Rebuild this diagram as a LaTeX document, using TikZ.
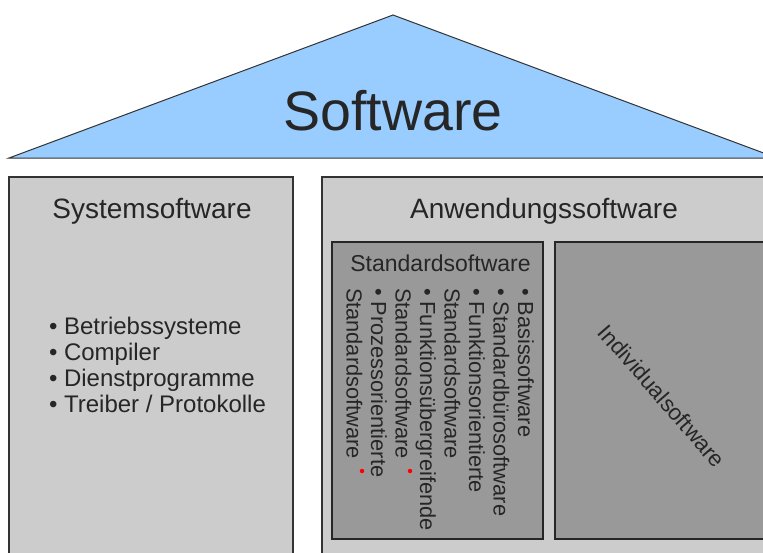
\documentclass[tikz,border=0pt]{standalone}
\usepackage{fontspec}
\setmainfont{Liberation Sans}
\definecolor{roofblue}{HTML}{99CCFF}
\definecolor{boxgray}{HTML}{CCCCCC}
\definecolor{innergray}{HTML}{999999}
\definecolor{linedark}{HTML}{333333}
\definecolor{textdark}{HTML}{262626}
\tikzset{
  outerbox/.style={fill=boxgray, draw=linedark, line width=1.6pt},
  innerbox/.style={fill=innergray, draw=black!85, line width=1.8pt},
  lbl/.style={text=textdark, inner sep=0pt, outer sep=0pt},
  vlist/.style={lbl, rotate=-90, anchor=base west, font=\fontsize{21.8}{24}\selectfont},
  hlist/.style={lbl, anchor=base west, font=\fontsize{24}{26}\selectfont},
  reddot/.style={circle, fill=red, inner sep=0pt, minimum size=4.5pt}
}
\begin{document}
\begin{tikzpicture}[x=1pt,y=-1pt]
\useasboundingbox (0,0) rectangle (763,552);
\clip (0,0) rectangle (763,552);
\fill[white] (0,0) rectangle (763,552);
% roof
\coordinate (rl) at (9,158);
\coordinate (rt) at (393,15);
\coordinate (rr) at (777,158);
\draw[fill=roofblue, draw=linedark, line width=1pt] (rl) -- (rt) -- (rr) -- cycle;
\node[lbl, anchor=base, font=\fontsize{55.5}{60}\selectfont] (sw) at (393,130) {Software};
% left pillar
\draw[outerbox] (9,177) rectangle (293,570);
\node[lbl, anchor=base, font=\fontsize{28}{30}\selectfont] (sys) at (152,218) {Systemsoftware};
\node[hlist] (s1) at (49,334) {• Betriebssysteme};
\node[hlist] (s2) at (49,360) {• Compiler};
\node[hlist] (s3) at (49,386) {• Dienstprogramme};
\node[hlist] (s4) at (49,412) {• Treiber / Protokolle};
% right pillar
\draw[outerbox] (322,177) rectangle (790,570);
\node[lbl, anchor=base, font=\fontsize{28}{30}\selectfont] (anw) at (544,218) {Anwendungssoftware};
% standard software
\draw[innerbox] (332,242) rectangle (543,539);
\node[lbl, anchor=base, font=\fontsize{23}{26}\selectfont] (std) at (440.5,271) {Standardsoftware};
\node[vlist] (v1) at (518,288) {• Basissoftware};
\node[vlist] (v2) at (493.5,288) {• Standardbürosoftware};
\node[vlist] (v3) at (469,288) {• Funktionsorientierte};
\node[vlist] (v4) at (444.5,288) {Standardsoftware};
\node[vlist] (v5) at (420,288) {• Funktionsübergreifende};
\node[vlist] (v6) at (395.5,288) {Standardsoftware};
\node[vlist] (v7) at (371,288) {• Prozessorientierte};
\node[vlist] (v8) at (346.5,288) {Standardsoftware};
\node[reddot] (d1) at (410,471) {};
\node[reddot] (d2) at (362,471) {};
% individual software
\draw[innerbox] (555,242) rectangle (790,539);
\node[lbl, rotate=-49, font=\fontsize{22.5}{26}\selectfont] (ind) at (662,396) {Individualsoftware};
\end{tikzpicture}
\end{document}
